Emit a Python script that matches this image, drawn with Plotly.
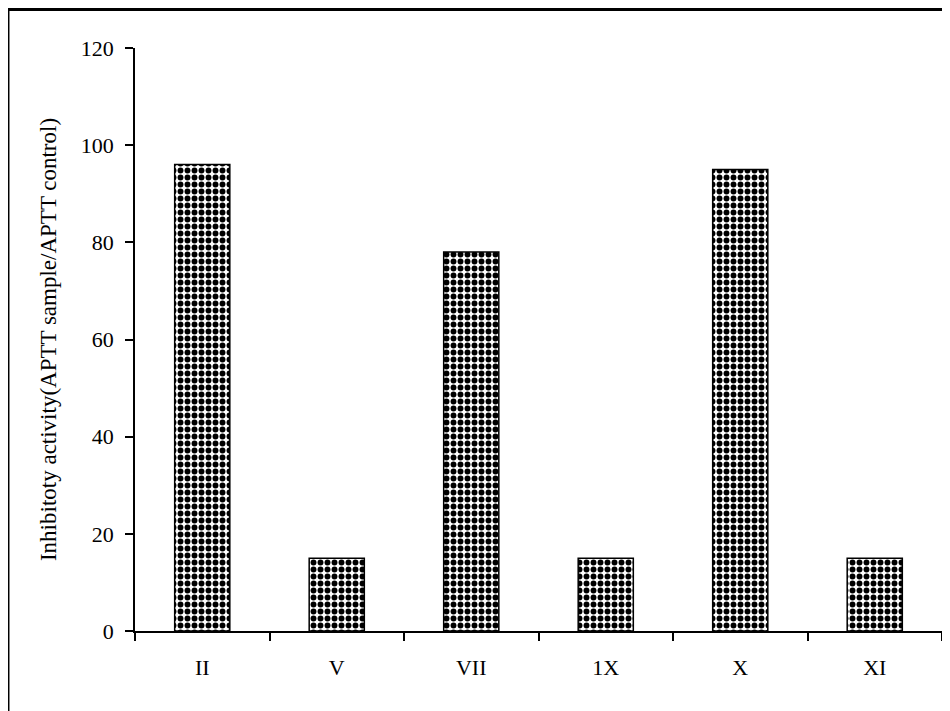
import plotly.graph_objects as go

categories = ["II", "V", "VII", "1X", "X", "XI"]
values = [96, 15, 78, 15, 95, 15]
y_ticks = [0, 20, 40, 60, 80, 100, 120]
y_title = "Inhibitoty activity(APTT sample/APTT control)"

font_family = "Liberation Serif, Times New Roman, serif"

fig = go.Figure()
fig.add_trace(go.Bar(
    x=categories,
    y=values,
    marker=dict(
        color="white",
        line=dict(color="black", width=1.5),
        pattern=dict(shape=".", fgcolor="black", bgcolor="white", size=7, solidity=0.55, fillmode="replace"),
    ),
    showlegend=False,
))

# the page adds an 8px body margin, so the figure is 8px smaller than the window
fig.update_layout(
    width=942,
    height=703,
    margin=dict(l=127, r=8, t=40, b=80),
    paper_bgcolor="white",
    plot_bgcolor="white",
    bargap=0.59,
    font=dict(family=font_family, color="black", size=22),
    shapes=[dict(
        type="rect", xref="paper", yref="paper",
        x0=-0.1574, x1=1.05, y0=-0.3, y1=1.066,
        line=dict(color="black", width=3), fillcolor="rgba(0,0,0,0)", layer="above",
    )],
)

fig.update_xaxes(
    showline=True, linecolor="black", linewidth=1.5,
    ticks="outside", tickson="boundaries", ticklen=8, tickwidth=1.5, tickcolor="black",
    showgrid=False, zeroline=False,
    tickfont=dict(family=font_family, size=22, color="black"),
    ticklabelstandoff=16,
)
fig.update_yaxes(
    range=[0, 120], tickvals=y_ticks,
    showline=True, linecolor="black", linewidth=1.5,
    ticks="outside", ticklen=8, tickwidth=1.5, tickcolor="black",
    showgrid=False, zeroline=False,
    tickfont=dict(family=font_family, size=22, color="black"),
    ticklabelstandoff=7,
    title=dict(text=y_title, font=dict(family=font_family, size=23, color="black"), standoff=18),
)

fig.write_html("out.html")
